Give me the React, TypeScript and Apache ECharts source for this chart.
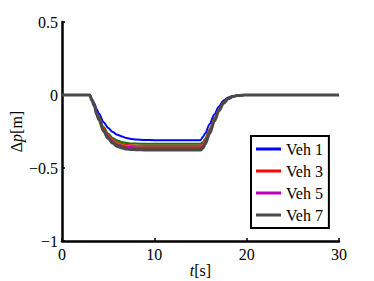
import React, { useEffect, useRef } from "react";
import * as echarts from "echarts";

const times = [0, 3, 3.25, 3.5, 3.75, 4, 4.5, 5, 5.5, 6, 6.5, 7, 7.5, 8, 9, 10, 15, 15.25, 15.5, 16, 16.5, 17, 17.5, 18, 18.5, 19, 19.5, 20, 30];

const veh1 = [0, 0, -0.028, -0.056, -0.096, -0.127, -0.186, -0.226, -0.254, -0.273, -0.285, -0.295, -0.301, -0.304, -0.308, -0.31, -0.31, -0.288, -0.264, -0.198, -0.133, -0.078, -0.037, -0.017, -0.007, -0.002, -0.001, 0, 0];
const veh2 = [0, 0, -0.033, -0.067, -0.117, -0.15, -0.22, -0.264, -0.294, -0.312, -0.322, -0.329, -0.332, -0.333, -0.334, -0.334, -0.334, -0.324, -0.301, -0.234, -0.16, -0.097, -0.05, -0.023, -0.01, -0.003, -0.001, 0, 0];
const veh3 = [0, 0, -0.035, -0.07, -0.122, -0.157, -0.23, -0.275, -0.306, -0.325, -0.336, -0.343, -0.346, -0.347, -0.348, -0.348, -0.348, -0.338, -0.313, -0.244, -0.167, -0.101, -0.052, -0.024, -0.01, -0.003, -0.001, 0, 0];
const veh4 = [0, 0, -0.035, -0.071, -0.124, -0.159, -0.234, -0.28, -0.312, -0.331, -0.342, -0.349, -0.352, -0.353, -0.354, -0.354, -0.354, -0.343, -0.319, -0.248, -0.17, -0.103, -0.053, -0.025, -0.011, -0.004, -0.001, 0, 0];
const veh5 = [0, 0, -0.036, -0.072, -0.126, -0.162, -0.238, -0.284, -0.317, -0.337, -0.347, -0.355, -0.357, -0.359, -0.36, -0.36, -0.36, -0.349, -0.324, -0.252, -0.173, -0.104, -0.054, -0.025, -0.011, -0.004, -0.001, 0, 0];
const veh6 = [0, 0, -0.037, -0.073, -0.128, -0.165, -0.242, -0.29, -0.323, -0.343, -0.354, -0.361, -0.364, -0.366, -0.367, -0.367, -0.367, -0.356, -0.33, -0.257, -0.176, -0.106, -0.055, -0.026, -0.011, -0.004, -0.001, 0, 0];
const veh7 = [0, 0, -0.038, -0.075, -0.132, -0.169, -0.248, -0.297, -0.331, -0.352, -0.363, -0.37, -0.373, -0.375, -0.376, -0.376, -0.376, -0.365, -0.338, -0.263, -0.18, -0.109, -0.056, -0.026, -0.011, -0.004, -0.001, 0, 0];

const seriesNames = ["Veh 1", "Veh 2", "Veh 3", "Veh 4", "Veh 5", "Veh 6", "Veh 7"];
const seriesValues = [veh1, veh2, veh3, veh4, veh5, veh6, veh7];
const seriesColors = ["#0000ff", "#008000", "#ff0000", "#b08a00", "#c000c0", "#8b4513", "#4a4a48"];
const legendNames = ["Veh 1", "Veh 3", "Veh 5", "Veh 7"];

const xTicks = { min: 0, max: 30, interval: 10 };
const yTicks = { min: -1, max: 0.5, interval: 0.5 };

const FONT = "serif";

export default function App() {
  const ref = useRef<HTMLDivElement>(null);
  useEffect(() => {
    if (!ref.current) return;
    const chart = echarts.init(ref.current, undefined, { renderer: "svg" });
    const fmt = (v: number) => (v < 0 ? "\u2212" + String(Math.abs(v)) : String(v));
    const richStyles = {
      i: { fontFamily: FONT, fontSize: 16, fontStyle: "italic", color: "#000" },
      a: { fontFamily: FONT, fontSize: 16, color: "#000" },
    };
    chart.setOption({
      animation: false,
      backgroundColor: "#ffffff",
      textStyle: { fontFamily: FONT, fontSize: 16 },
      grid: { left: 62, right: 35, top: 22, bottom: 40, containLabel: false, outerBoundsMode: "none" },
      legend: {
        data: legendNames,
        orient: "vertical",
        left: 251,
        top: 136,
        padding: [5, 6, 5, 5],
        itemGap: 6,
        itemWidth: 25,
        itemHeight: 3,
        icon: "rect",
        borderColor: "#000",
        borderWidth: 2,
        backgroundColor: "#fff",
        borderRadius: 0,
        textStyle: { fontFamily: FONT, fontSize: 16, color: "#000", lineHeight: 16 },
      },
      xAxis: {
        type: "value",
        min: xTicks.min,
        max: xTicks.max,
        interval: xTicks.interval,
        name: "{i|t}{a|[s]}",
        nameLocation: "middle",
        nameGap: 21,
        nameMoveOverlap: false,
        nameTextStyle: { fontFamily: FONT, fontSize: 16, rich: richStyles },
        axisLine: { show: true, onZero: false, lineStyle: { color: "#000", width: 2.5 } },
        axisTick: { show: true, inside: true, length: 3, lineStyle: { color: "#000", width: 1.5 } },
        axisLabel: { fontFamily: FONT, fontSize: 16, color: "#000", margin: 5, formatter: fmt },
        splitLine: { show: false },
      },
      yAxis: {
        type: "value",
        min: yTicks.min,
        max: yTicks.max,
        interval: yTicks.interval,
        name: "{a|\u0394}{i|p}{a|[m]}",
        nameLocation: "middle",
        nameGap: 38,
        nameMoveOverlap: false,
        nameTextStyle: { fontFamily: FONT, fontSize: 16, rich: richStyles },
        axisLine: { show: true, onZero: false, lineStyle: { color: "#000", width: 2.5 } },
        axisTick: { show: true, inside: true, length: 3, lineStyle: { color: "#000", width: 1.5 } },
        axisLabel: { fontFamily: FONT, fontSize: 16, color: "#000", margin: 4, formatter: fmt },
        splitLine: { show: false },
      },
      series: seriesNames.map((name, k) => ({
        name,
        type: "line",
        data: times.map((t, i) => [t, seriesValues[k][i]]),
        showSymbol: false,
        smooth: 0.3,
        smoothMonotone: "x",
        lineStyle: { color: seriesColors[k], width: k === 6 ? 3 : 2 },
        itemStyle: { color: seriesColors[k] },
        z: 2 + k,
      })),
    });
    return () => chart.dispose();
  }, []);
  return (
    <div
      ref={ref}
      style={{
        position: "fixed",
        left: 0,
        top: 0,
        width: 374,
        height: 281,
        background: "#fff",
        fontFamily: "serif",
      }}
    />
  );
}
